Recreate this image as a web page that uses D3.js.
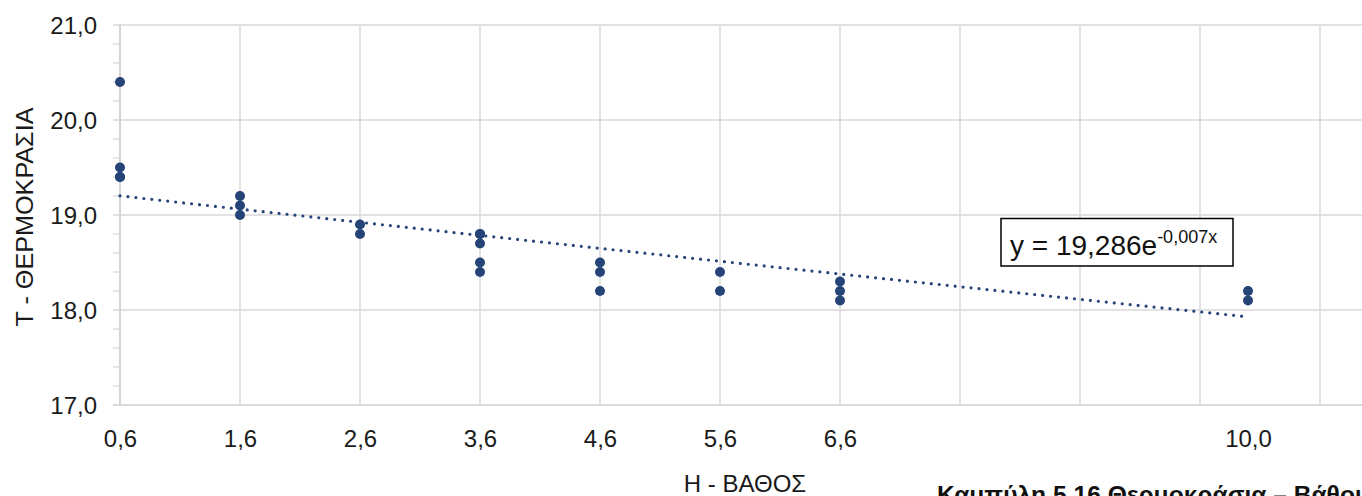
<!DOCTYPE html>
<html><head><meta charset="utf-8">
<script src="https://cdn.jsdelivr.net/npm/d3@7"></script>
<style>html,body{margin:0;padding:0;background:#fff;overflow:hidden}svg{display:block}</style>
</head><body>
<svg id="c" width="1362" height="496"></svg>
<script>
// Data
const depths = [0.6,0.6,0.6,0.6, 1.6,1.6,1.6, 2.6,2.6, 3.6,3.6,3.6,3.6,3.6, 4.6,4.6,4.6, 5.6,5.6, 6.6,6.6,6.6, 10.0,10.0];
const temps  = [20.4,19.5,19.4,19.4, 19.2,19.1,19.0, 18.9,18.8, 18.8,18.8,18.7,18.5,18.4, 18.5,18.4,18.2, 18.4,18.2, 18.3,18.2,18.1, 18.2,18.1];
const xTickValues = [0.6,1.6,2.6,3.6,4.6,5.6,6.6,10.0];
const xTickLabels = ["0,6","1,6","2,6","3,6","4,6","5,6","6,6","10,0"];
const xGridValues = [0.6,1.6,2.6,3.6,4.6,5.6,6.6,7.6,8.6,9.6,10.6];
const yTickValues = [17,18,19,20,21];
const yTickLabels = ["17,0","18,0","19,0","20,0","21,0"];
const trendA = 19.286, trendB = 0.0073;   // exponential trendline y = a·e^(-b·x)
const trendRange = [0.6, 10.0];
const equationMain = "y = 19,286e";
const equationExp = "-0,007x";
const xTitle = "Η - ΒΑΘΟΣ";
const yTitle = "Τ - ΘΕΡΜΟΚΡΑΣΙΑ";
const caption = "Καμπύλη 5.16 Θερμοκράσια – Βάθους";

const svg = d3.select("#c");
const x = d3.scaleLinear().domain([0.6, 10.6]).range([120, 1320]);
const y = d3.scaleLinear().domain([17, 21]).range([405, 25]);
const font = "'Liberation Sans', Arial, sans-serif";
const grid = "#d9d9d9";
const blue = "#264478";

// vertical gridlines
svg.append("g").selectAll("line").data(xGridValues).join("line")
  .attr("x1", d => x(d)).attr("x2", d => x(d))
  .attr("y1", y(21)).attr("y2", y(17))
  .attr("stroke", grid).attr("stroke-width", 1.5);

// horizontal gridlines
svg.append("g").selectAll("line").data(yTickValues).join("line")
  .attr("x1", 113).attr("x2", 1362)
  .attr("y1", d => y(d)).attr("y2", d => y(d))
  .attr("stroke", d => d === 17 ? "#cfcfcf" : grid).attr("stroke-width", 1.5);

// y minor ticks
const minor = d3.range(17, 21.001, 0.2).filter(v => Math.abs(v - Math.round(v)) > 1e-6);
svg.append("g").selectAll("line").data(minor).join("line")
  .attr("x1", 113).attr("x2", 120)
  .attr("y1", d => y(d)).attr("y2", d => y(d))
  .attr("stroke", grid).attr("stroke-width", 1.3);

// y axis line
svg.append("line").attr("x1", 120).attr("x2", 120).attr("y1", y(21)).attr("y2", y(17))
  .attr("stroke", "#cfcfcf").attr("stroke-width", 1.5);

// y tick labels via axis
const yAxis = d3.axisLeft(y).tickValues(yTickValues)
  .tickFormat((d, i) => yTickLabels[i]).tickSize(0).tickPadding(0);
const gy = svg.append("g").attr("transform", "translate(97,0)").call(yAxis);
gy.select(".domain").remove();
gy.selectAll("text").attr("font-family", font).attr("font-size", 24).attr("fill", "#1a1a1a").attr("dy", "0.35em");

// x tick labels via axis
const xAxis = d3.axisBottom(x).tickValues(xTickValues)
  .tickFormat((d, i) => xTickLabels[i]).tickSize(0).tickPadding(0);
const gx = svg.append("g").attr("transform", "translate(0,430)").call(xAxis);
gx.select(".domain").remove();
gx.selectAll("text").attr("font-family", font).attr("font-size", 24).attr("fill", "#1a1a1a").attr("dy", "0.71em");

// trendline
const tx = d3.range(trendRange[0], trendRange[1] + 1e-9, 0.05);
const line = d3.line().x(d => x(d)).y(d => y(trendA * Math.exp(-trendB * d)));
svg.append("path").datum(tx).attr("d", line)
  .attr("fill", "none").attr("stroke", blue).attr("stroke-width", 3.2)
  .attr("stroke-linecap", "round").attr("stroke-dasharray", "0,8");

// points
svg.append("g").selectAll("circle").data(depths.map((d, i) => [d, temps[i]])).join("circle")
  .attr("cx", d => x(d[0])).attr("cy", d => y(d[1])).attr("r", 5).attr("fill", blue);

// equation box
svg.append("rect").attr("x", 1001).attr("y", 218.5).attr("width", 232).attr("height", 47.5)
  .attr("fill", "#fff").attr("stroke", "#000").attr("stroke-width", 1.5);
const eq = svg.append("text").attr("x", 1010).attr("y", 255)
  .attr("font-family", font).attr("font-size", 28).attr("fill", "#111");
eq.append("tspan").text(equationMain);
eq.append("tspan").attr("font-size", 18).attr("dy", -12).text(equationExp);

// axis titles
svg.append("text").attr("x", 745).attr("y", 492).attr("text-anchor", "middle")
  .attr("font-family", font).attr("font-size", 24).attr("fill", "#1a1a1a").text(xTitle);
svg.append("text").attr("transform", "translate(33,217) rotate(-90)").attr("text-anchor", "middle")
  .attr("font-family", font).attr("font-size", 24).attr("fill", "#1a1a1a")
  .attr("textLength", 219).attr("lengthAdjust", "spacingAndGlyphs").text(yTitle);

// caption (cut off at the bottom-right as in the reference)
svg.append("text").attr("x", 937).attr("y", 503)
  .attr("font-family", font).attr("font-size", 23).attr("font-weight", "bold").attr("fill", "#111")
  .attr("textLength", 445).attr("lengthAdjust", "spacingAndGlyphs").text(caption);
</script>
</body></html>
